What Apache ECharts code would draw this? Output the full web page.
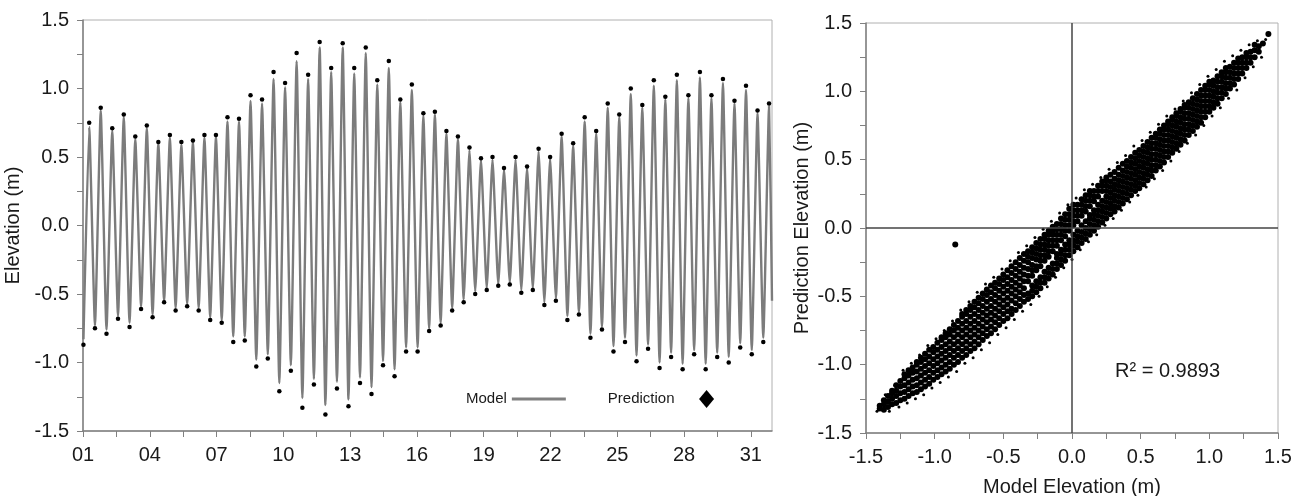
<!DOCTYPE html>
<html>
<head>
<meta charset="utf-8">
<script src="https://cdn.jsdelivr.net/npm/echarts@6/dist/echarts.min.js"></script>
<style>
  html, body { margin: 0; padding: 0; background: #fff; }
  #chart { width: 1301px; height: 496px; }
</style>
</head>
<body>
<div id="chart"></div>
<script>
// tidal record: high / low water of each half-cycle
const firstLowDay = 1.02
const halfCycle = 0.2588 // days between successive low and high water

const modelLow = [-0.83,-0.73,-0.76,-0.66,-0.71,-0.59,-0.65,-0.55,-0.60,-0.57,-0.60,-0.67,-0.69,-0.81,-0.81,-0.98,-0.94,-1.15,-1.02,-1.26,-1.12,-1.31,-1.14,-1.27,-1.11,-1.18,-0.99,-1.05,-0.89,-0.89,-0.75,-0.71,-0.60,-0.54,-0.48,-0.46,-0.43,-0.42,-0.47,-0.46,-0.56,-0.53,-0.66,-0.63,-0.79,-0.74,-0.88,-0.82,-0.95,-0.87,-1.00,-0.93,-1.01,-0.91,-1.01,-0.93,-0.96,-0.86,-0.91,-0.82]
const modelHigh = [0.72,0.84,0.69,0.79,0.63,0.71,0.60,0.64,0.59,0.61,0.64,0.65,0.76,0.76,0.91,0.89,1.07,1.01,1.20,1.07,1.30,1.12,1.30,1.11,1.26,1.03,1.15,0.90,0.99,0.80,0.81,0.67,0.63,0.55,0.48,0.48,0.41,0.48,0.42,0.54,0.49,0.65,0.58,0.76,0.67,0.86,0.79,0.96,0.86,1.02,0.92,1.06,0.93,1.08,0.93,1.04,0.89,0.99,0.82,0.87]
const predLow = [-0.87,-0.75,-0.79,-0.68,-0.74,-0.61,-0.67,-0.56,-0.62,-0.59,-0.62,-0.69,-0.71,-0.85,-0.84,-1.03,-0.97,-1.21,-1.06,-1.33,-1.16,-1.38,-1.19,-1.32,-1.15,-1.23,-1.02,-1.10,-0.92,-0.92,-0.77,-0.73,-0.62,-0.56,-0.50,-0.47,-0.44,-0.43,-0.49,-0.47,-0.58,-0.55,-0.69,-0.65,-0.82,-0.76,-0.92,-0.85,-0.99,-0.90,-1.04,-0.96,-1.05,-0.94,-1.05,-0.96,-1.00,-0.89,-0.94,-0.85]
const predHigh = [0.75,0.86,0.71,0.81,0.65,0.73,0.61,0.66,0.61,0.62,0.66,0.66,0.79,0.78,0.95,0.92,1.12,1.04,1.26,1.10,1.34,1.15,1.33,1.15,1.30,1.06,1.20,0.92,1.03,0.82,0.83,0.69,0.65,0.57,0.49,0.50,0.42,0.50,0.43,0.56,0.50,0.67,0.60,0.79,0.69,0.89,0.81,1.00,0.88,1.06,0.94,1.10,0.95,1.12,0.95,1.07,0.91,1.02,0.84,0.89]
const endDay = 31.95
const endValue = -0.55

// model vs prediction scatter: [model elevation, [prediction elevations]]
const scatterCols = [
  [-1.40, [-1.32, -1.30]],
  [-1.37, [-1.33, -1.29, -1.26]],
  [-1.34, [-1.31, -1.27, -1.23]],
  [-1.31, [-1.29, -1.25, -1.21, -1.19]],
  [-1.28, [-1.28, -1.23, -1.19, -1.15]],
  [-1.25, [-1.26, -1.21, -1.16, -1.12]],
  [-1.22, [-1.25, -1.20, -1.15, -1.10, -1.07]],
  [-1.19, [-1.23, -1.18, -1.13, -1.08, -1.04]],
  [-1.16, [-1.21, -1.16, -1.11, -1.06, -1.02]],
  [-1.13, [-1.20, -1.15, -1.10, -1.05, -1.00, -0.98]],
  [-1.10, [-1.18, -1.13, -1.08, -1.03, -0.98, -0.95]],
  [-1.07, [-1.16, -1.11, -1.06, -1.01, -0.96, -0.92]],
  [-1.04, [-1.14, -1.09, -1.04, -0.99, -0.94, -0.89]],
  [-1.01, [-1.11, -1.06, -1.01, -0.96, -0.91, -0.87]],
  [-0.98, [-1.09, -1.04, -0.99, -0.94, -0.89, -0.84]],
  [-0.95, [-1.07, -1.02, -0.97, -0.92, -0.87, -0.82, -0.80]],
  [-0.92, [-1.05, -1.00, -0.95, -0.90, -0.85, -0.80, -0.77]],
  [-0.89, [-1.03, -0.98, -0.93, -0.88, -0.83, -0.78, -0.74]],
  [-0.86, [-1.00, -0.95, -0.90, -0.85, -0.80, -0.75, -0.71]],
  [-0.83, [-0.98, -0.93, -0.88, -0.83, -0.78, -0.73, -0.68]],
  [-0.80, [-0.95, -0.90, -0.85, -0.80, -0.75, -0.70, -0.65, -0.63]],
  [-0.77, [-0.93, -0.88, -0.83, -0.78, -0.73, -0.68, -0.63, -0.60]],
  [-0.74, [-0.90, -0.85, -0.80, -0.75, -0.70, -0.65, -0.60, -0.57]],
  [-0.71, [-0.88, -0.83, -0.78, -0.73, -0.68, -0.63, -0.58, -0.54]],
  [-0.68, [-0.85, -0.80, -0.75, -0.70, -0.65, -0.60, -0.55, -0.51]],
  [-0.65, [-0.82, -0.77, -0.72, -0.67, -0.62, -0.57, -0.52, -0.48]],
  [-0.62, [-0.79, -0.74, -0.69, -0.64, -0.59, -0.54, -0.49, -0.45]],
  [-0.59, [-0.77, -0.72, -0.67, -0.62, -0.57, -0.52, -0.47, -0.42]],
  [-0.56, [-0.74, -0.69, -0.64, -0.59, -0.54, -0.49, -0.44, -0.40]],
  [-0.53, [-0.71, -0.66, -0.61, -0.56, -0.51, -0.46, -0.41, -0.37]],
  [-0.50, [-0.68, -0.63, -0.58, -0.53, -0.48, -0.43, -0.38, -0.34]],
  [-0.47, [-0.66, -0.61, -0.56, -0.51, -0.46, -0.41, -0.36, -0.31]],
  [-0.44, [-0.63, -0.59, -0.53, -0.48, -0.43, -0.38, -0.33, -0.28]],
  [-0.41, [-0.60, -0.55, -0.50, -0.45, -0.40, -0.35, -0.30, -0.25]],
  [-0.38, [-0.57, -0.52, -0.47, -0.42, -0.37, -0.32, -0.27, -0.22]],
  [-0.35, [-0.54, -0.49, -0.44, -0.39, -0.34, -0.29, -0.24, -0.19]],
  [-0.32, [-0.52, -0.48, -0.39, -0.35, -0.30, -0.25, -0.21, -0.17]],
  [-0.29, [-0.50, -0.46, -0.42, -0.35, -0.31, -0.27, -0.22, -0.18, -0.14]],
  [-0.26, [-0.47, -0.43, -0.39, -0.31, -0.28, -0.23, -0.19, -0.15, -0.11]],
  [-0.23, [-0.44, -0.40, -0.36, -0.28, -0.24, -0.20, -0.16, -0.12, -0.08]],
  [-0.20, [-0.40, -0.36, -0.32, -0.24, -0.20, -0.16, -0.12, -0.08, -0.05]],
  [-0.17, [-0.37, -0.33, -0.29, -0.21, -0.17, -0.13, -0.09, -0.05, -0.02]],
  [-0.14, [-0.34, -0.30, -0.26, -0.17, -0.13, -0.09, -0.05, -0.02, 0.01]],
  [-0.11, [-0.30, -0.26, -0.22, -0.19, -0.13, -0.09, -0.05, -0.01, 0.03]],
  [-0.08, [-0.27, -0.23, -0.19, -0.16, -0.09, -0.05, -0.01, 0.03, 0.07]],
  [-0.05, [-0.24, -0.20, -0.16, -0.12, -0.06, -0.02, 0.02, 0.06, 0.10]],
  [-0.02, [-0.20, -0.16, -0.12, -0.09, -0.02, 0.02, 0.06, 0.10, 0.14]],
  [0.01, [-0.17, -0.13, -0.09, -0.05, 0.02, 0.05, 0.09, 0.13, 0.17]],
  [0.04, [-0.14, -0.10, -0.06, -0.02, 0.05, 0.09, 0.13, 0.17]],
  [0.07, [-0.11, -0.07, -0.03, 0.02, 0.09, 0.13, 0.17, 0.21]],
  [0.10, [-0.08, -0.04, 0.00, 0.05, 0.12, 0.16, 0.20, 0.24]],
  [0.13, [-0.05, -0.01, 0.03, 0.07, 0.095, 0.16, 0.20, 0.24, 0.27]],
  [0.16, [-0.02, 0.02, 0.06, 0.10, 0.13, 0.195, 0.23, 0.27]],
  [0.19, [0.01, 0.05, 0.09, 0.13, 0.17, 0.23, 0.27, 0.31]],
  [0.22, [0.04, 0.08, 0.12, 0.16, 0.20, 0.27, 0.31, 0.34]],
  [0.25, [0.07, 0.11, 0.15, 0.19, 0.23, 0.27, 0.31, 0.35, 0.37]],
  [0.28, [0.10, 0.14, 0.18, 0.22, 0.26, 0.30, 0.34, 0.39]],
  [0.31, [0.12, 0.16, 0.20, 0.24, 0.28, 0.32, 0.36, 0.41]],
  [0.34, [0.15, 0.19, 0.23, 0.27, 0.31, 0.35, 0.39, 0.44]],
  [0.37, [0.18, 0.22, 0.26, 0.30, 0.34, 0.38, 0.42, 0.47]],
  [0.40, [0.21, 0.25, 0.29, 0.33, 0.37, 0.41, 0.45, 0.49]],
  [0.43, [0.24, 0.28, 0.32, 0.36, 0.40, 0.44, 0.48, 0.52]],
  [0.46, [0.27, 0.31, 0.35, 0.39, 0.43, 0.47, 0.51, 0.55]],
  [0.49, [0.29, 0.33, 0.37, 0.41, 0.45, 0.49, 0.53, 0.57]],
  [0.52, [0.32, 0.36, 0.40, 0.44, 0.48, 0.52, 0.56, 0.60]],
  [0.55, [0.35, 0.39, 0.43, 0.47, 0.51, 0.55, 0.59, 0.63]],
  [0.58, [0.38, 0.42, 0.46, 0.50, 0.54, 0.58, 0.62, 0.66]],
  [0.61, [0.42, 0.46, 0.50, 0.54, 0.58, 0.62, 0.66, 0.69]],
  [0.64, [0.45, 0.49, 0.53, 0.57, 0.61, 0.65, 0.69, 0.72]],
  [0.67, [0.48, 0.52, 0.56, 0.60, 0.64, 0.68, 0.72, 0.75]],
  [0.70, [0.52, 0.56, 0.60, 0.64, 0.68, 0.72, 0.76, 0.78]],
  [0.73, [0.55, 0.59, 0.63, 0.67, 0.71, 0.75, 0.79, 0.81]],
  [0.76, [0.58, 0.62, 0.66, 0.70, 0.74, 0.78, 0.82, 0.84]],
  [0.79, [0.61, 0.65, 0.69, 0.73, 0.77, 0.81, 0.85, 0.87]],
  [0.82, [0.64, 0.68, 0.72, 0.76, 0.80, 0.84, 0.88, 0.90]],
  [0.85, [0.68, 0.72, 0.76, 0.80, 0.84, 0.88, 0.92]],
  [0.88, [0.71, 0.75, 0.79, 0.83, 0.87, 0.91, 0.95]],
  [0.91, [0.74, 0.78, 0.82, 0.86, 0.90, 0.94, 0.98]],
  [0.94, [0.77, 0.81, 0.85, 0.89, 0.93, 0.97, 1.01]],
  [0.97, [0.81, 0.85, 0.89, 0.93, 0.97, 1.01, 1.04]],
  [1.00, [0.85, 0.89, 0.93, 0.97, 1.01, 1.05, 1.07]],
  [1.03, [0.88, 0.92, 0.96, 1.00, 1.04, 1.08]],
  [1.06, [0.91, 0.95, 0.99, 1.03, 1.07, 1.11]],
  [1.09, [0.95, 0.99, 1.03, 1.07, 1.11, 1.14]],
  [1.12, [0.98, 1.02, 1.06, 1.10, 1.14, 1.17]],
  [1.15, [1.02, 1.06, 1.10, 1.14, 1.18]],
  [1.18, [1.05, 1.09, 1.13, 1.17, 1.21]],
  [1.21, [1.09, 1.13, 1.17, 1.21, 1.24]],
  [1.24, [1.13, 1.17, 1.21, 1.25]],
  [1.27, [1.17, 1.21, 1.25, 1.28]],
  [1.30, [1.21, 1.25, 1.29]],
  [1.33, [1.25, 1.30, 1.34]],
  [1.36, [1.29, 1.33]],
  [1.39, [1.35]],
  [1.43, [1.42]],
  [-0.85, [-0.12]]
]
// loose points speckled along both edges of the band: [model, prediction]
const scatterFringe = [
  [-1.42,-1.34],[-1.36,-1.22],[-1.33,-1.34],[-1.29,-1.15],[-1.26,-1.31],[-1.23,-1.04],[-1.20,-1.28],[-1.17,-0.99],
  [-1.14,-1.25],[-1.11,-0.93],[-1.08,-1.22],[-1.05,-0.86],[-1.02,-1.17],[-0.99,-0.81],[-0.96,-1.13],[-0.93,-0.75],
  [-0.90,-1.09],[-0.87,-0.68],[-0.84,-1.05],[-0.81,-0.60],[-0.78,-0.99],[-0.75,-0.54],[-0.72,-0.95],[-0.69,-0.47],
  [-0.66,-0.89],[-0.63,-0.41],[-0.60,-0.84],[-0.57,-0.36],[-0.54,-0.78],[-0.51,-0.30],[-0.48,-0.73],[-0.45,-0.24],
  [-0.42,-0.67],[-0.39,-0.18],[-0.36,-0.61],[-0.33,-0.13],[-0.30,-0.56],[-0.27,-0.07],[-0.24,-0.50],[-0.21,-0.01],
  [-0.18,-0.43],[-0.15,0.05],[-0.12,-0.36],[-0.09,0.11],[-0.06,-0.29],[-0.03,0.17],[0.00,-0.23],[0.03,0.22],
  [0.06,-0.16],[0.09,0.28],[0.12,-0.10],[0.15,0.32],[0.18,-0.05],[0.21,0.37],[0.24,0.02],[0.27,0.43],
  [0.30,0.07],[0.33,0.48],[0.36,0.13],[0.39,0.53],[0.42,0.19],[0.45,0.60],[0.48,0.24],[0.51,0.64],
  [0.54,0.30],[0.57,0.70],[0.60,0.36],[0.63,0.76],[0.66,0.42],[0.69,0.82],[0.72,0.49],[0.75,0.87],
  [0.78,0.56],[0.81,0.93],[0.84,0.62],[0.87,0.99],[0.90,0.68],[0.93,1.05],[0.96,0.75],[0.99,1.11],
  [1.02,0.82],[1.05,1.16],[1.08,0.88],[1.11,1.22],[1.14,0.95],[1.17,1.26],[1.20,1.01],[1.23,1.30],
  [1.26,1.10],[1.29,1.34],[1.32,1.18],[1.35,1.37],[1.38,1.25],[1.41,1.38]
]
const rSquaredText = 'R² = 0.9893'

const FONT = "'Liberation Sans', Arial, sans-serif"
const TEXT = '#1a1a1a'

function pad2(v) {
  return String(v).padStart(2, '0')
}

function halfLabel(v) {
  // label only the 0.5 steps, minor ticks stay bare
  return Math.abs(v * 2 - Math.round(v * 2)) < 1e-6 ? v.toFixed(1) : ''
}

const modelLine = []
const predDots = []
for (let i = 0; i < modelLow.length; i++) {
  const tLow = firstLowDay + 2 * i * halfCycle
  const tHigh = tLow + halfCycle
  modelLine.push([tLow, modelLow[i]], [tHigh, modelHigh[i]])
  predDots.push([tLow, predLow[i]], [tHigh, predHigh[i]])
}
modelLine.push([endDay, endValue])

const scatterData = []
scatterCols.forEach(([x, ys]) => ys.forEach(y => scatterData.push([x, y])))

const axisCommon = {
  axisLine: { onZero: false, lineStyle: { color: '#808080', width: 1.5 } },
  axisTick: { show: true, length: 6, lineStyle: { color: '#808080', width: 1 } },
  splitLine: { show: false },
  axisLabel: { color: TEXT, fontSize: 20, fontFamily: FONT },
  nameTextStyle: { color: TEXT, fontSize: 20, fontFamily: FONT },
}

const chart = echarts.init(document.getElementById('chart'))
chart.setOption({
  animation: false,
  backgroundColor: '#fff',
  textStyle: { fontFamily: FONT },
  title: {
    text: rSquaredText,
    left: 1110,
    top: 356,
    textStyle: { color: TEXT, fontSize: 20, fontWeight: 'normal', fontFamily: FONT },
  },
  legend: {
    left: 466,
    top: 390,
    padding: 0,
    align: 'right',
    itemWidth: 54,
    itemHeight: 18,
    itemGap: 42,
    symbolKeepAspect: true,
    textStyle: { color: TEXT, fontSize: 15, fontFamily: FONT },
    data: [
      { name: 'Model', icon: 'path://M0,0 L54,0 L54,3 L0,3 Z', itemStyle: { color: '#808080' } },
      { name: 'Prediction', icon: 'path://M7.5,0 L15,9 L7.5,18 L0,9 Z', itemStyle: { color: '#000' } },
    ],
  },
  grid: [
    { left: 83, top: 20, width: 689, height: 411, show: true, borderColor: '#b0b0b0', borderWidth: 1, outerBoundsMode: 'none' },
    { left: 866, top: 23, width: 412, height: 410, show: true, borderColor: '#b0b0b0', borderWidth: 1, outerBoundsMode: 'none' },
  ],
  xAxis: [
    {
      ...axisCommon,
      gridIndex: 0,
      type: 'value',
      min: 1,
      max: endDay,
      interval: 1.5,
      axisLabel: {
        ...axisCommon.axisLabel,
        margin: 14,
        showMaxLabel: false,
        formatter: v => ((v - 1) % 3 === 0 ? pad2(v) : ''),
      },
    },
    {
      ...axisCommon,
      gridIndex: 1,
      type: 'value',
      min: -1.5,
      max: 1.5,
      interval: 0.25,
      name: 'Model Elevation (m)',
      nameLocation: 'middle',
      nameGap: 44,
      axisLabel: { ...axisCommon.axisLabel, margin: 14, formatter: halfLabel },
    },
  ],
  yAxis: [
    {
      ...axisCommon,
      gridIndex: 0,
      type: 'value',
      min: -1.5,
      max: 1.5,
      interval: 0.25,
      name: 'Elevation (m)',
      nameLocation: 'middle',
      nameGap: 48,
      axisLabel: { ...axisCommon.axisLabel, margin: 14, formatter: halfLabel },
    },
    {
      ...axisCommon,
      gridIndex: 1,
      type: 'value',
      min: -1.5,
      max: 1.5,
      interval: 0.25,
      name: 'Prediction Elevation (m)',
      nameLocation: 'middle',
      nameGap: 54,
      axisLabel: { ...axisCommon.axisLabel, margin: 14, formatter: halfLabel },
    },
  ],
  series: [
    {
      name: 'Model',
      type: 'line',
      xAxisIndex: 0,
      yAxisIndex: 0,
      data: modelLine,
      symbol: 'none',
      smooth: 0.15,
      lineStyle: { color: '#7c7c7c', width: 2.4 },
      itemStyle: { color: '#7c7c7c' },
      z: 2,
    },
    {
      name: 'Prediction',
      type: 'scatter',
      xAxisIndex: 0,
      yAxisIndex: 0,
      data: predDots,
      symbol: 'circle',
      symbolSize: 4.5,
      itemStyle: { color: '#000', opacity: 1 },
      z: 3,
    },
    {
      name: 'scatter',
      type: 'scatter',
      xAxisIndex: 1,
      yAxisIndex: 1,
      data: scatterData,
      symbol: 'circle',
      symbolSize: 6,
      itemStyle: { color: '#000', opacity: 1 },
      z: 3,
      markLine: {
        silent: true,
        symbol: 'none',
        label: { show: false },
        lineStyle: { color: '#444', width: 1.5, type: 'solid' },
        data: [{ xAxis: 0 }, { yAxis: 0 }],
      },
    },
    {
      name: 'scatterFringe',
      type: 'scatter',
      xAxisIndex: 1,
      yAxisIndex: 1,
      data: scatterFringe,
      symbol: 'circle',
      symbolSize: 3,
      itemStyle: { color: '#000', opacity: 1 },
      z: 3,
    },
  ],
})
</script>
</body>
</html>
